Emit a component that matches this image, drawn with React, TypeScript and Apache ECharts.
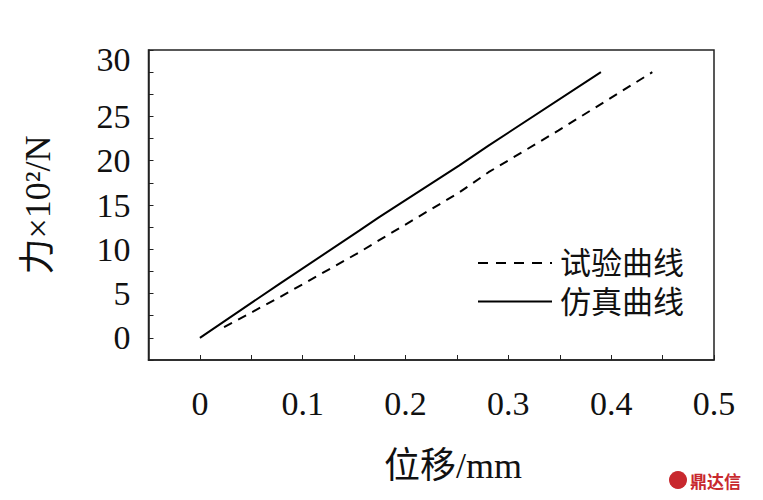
import React, { useEffect, useRef } from "react";
import * as echarts from "echarts";

// Displacement (mm) and force (×10² N)
const testX = [0.0235, 0.0774, 0.155, 0.174, 0.252, 0.2807, 0.3485, 0.44];
const testY = [1.2, 4.58, 9.66, 11.0, 16.4, 18.7, 23.4, 30.0];
const simX = [0, 0.0774, 0.155, 0.174, 0.252, 0.2807, 0.39];
const simY = [0, 6.1, 12.1, 13.6, 19.45, 21.7, 30.0];

const seriesNames = ["试验曲线", "仿真曲线"];
const xTickLabels = ["0", "0.1", "0.2", "0.3", "0.4", "0.5"];
const yTickLabels = ["0", "5", "10", "15", "20", "25", "30"];
const xTitle = "位移/mm";
const yTitle = "力×10²/N";

const FONT = '"Liberation Serif", "Times New Roman", "Noto Sans CJK SC", serif';
const CJK = '"Noto Sans CJK SC", sans-serif';

export default function App() {
  const ref = useRef<HTMLDivElement>(null);

  useEffect(() => {
    document.body.style.margin = "0";
    if (!ref.current) return;
    const chart = echarts.init(ref.current, null, { renderer: "svg" });
    const fmtX = (v: number) => {
      const s = v === 0 ? "0" : v.toFixed(1);
      return xTickLabels.includes(s) && Math.abs(v * 10 - Math.round(v * 10)) < 1e-6 ? s : "";
    };
    const fmtY = (v: number) => {
      const s = String(Math.round(v * 100) / 100);
      if (!yTickLabels.includes(s)) return "";
      return s === "30" ? "{t|30}" : s;
    };
    chart.setOption({
      animation: false,
      tooltip: { show: false },
      grid: {
        left: 148.5,
        top: 50,
        right: 49,
        bottom: 140,
        show: true,
        borderColor: "#222",
        borderWidth: 1.5,
      },
      xAxis: {
        type: "value",
        min: -0.05,
        max: 0.5,
        interval: 0.05,
        position: "bottom",
        axisLine: { show: true, onZero: false, lineStyle: { color: "#222", width: 1.5 } },
        axisTick: { show: true, inside: true, length: 5, lineStyle: { color: "#222", width: 1 } },
        splitLine: { show: false },
        axisLabel: {
          formatter: fmtX,
          showMinLabel: true,
          showMaxLabel: true,
          margin: 26,
          color: "#111",
          fontSize: 34,
          fontFamily: FONT,
        },
      },
      yAxis: {
        type: "value",
        min: -2.5,
        max: 32.5,
        interval: 2.5,
        position: "left",
        axisLine: { show: true, onZero: false, lineStyle: { color: "#222", width: 1.5 } },
        axisTick: { show: true, inside: true, length: 5, lineStyle: { color: "#222", width: 1 } },
        splitLine: { show: false },
        axisLabel: {
          formatter: fmtY,
          showMinLabel: true,
          showMaxLabel: true,
          margin: 18,
          color: "#111",
          fontSize: 34,
          fontFamily: FONT,
          rich: {
            t: { fontSize: 34, fontFamily: FONT, color: "#111", padding: [0, 0, 25, 0] },
          },
        },
      },
      series: [
        {
          name: seriesNames[0],
          type: "line",
          symbol: "none",
          smooth: false,
          data: testX.map((x, i) => [x, testY[i]]),
          lineStyle: { color: "#000", width: 2, type: [9, 7] },
        },
        {
          name: seriesNames[1],
          type: "line",
          symbol: "none",
          smooth: false,
          data: simX.map((x, i) => [x, simY[i]]),
          lineStyle: { color: "#000", width: 2, type: "solid" },
        },
      ],
      graphic: [
        {
          type: "line",
          shape: { x1: 478, y1: 263, x2: 552, y2: 263 },
          style: { stroke: "#000", lineWidth: 2, lineDash: [10, 8] },
        },
        {
          type: "text",
          x: 560,
          y: 263,
          style: {
            text: seriesNames[0],
            fontSize: 31,
            fontFamily: FONT,
            fill: "#111",
            verticalAlign: "middle",
          },
        },
        {
          type: "line",
          shape: { x1: 478, y1: 301.5, x2: 552, y2: 301.5 },
          style: { stroke: "#000", lineWidth: 2 },
        },
        {
          type: "text",
          x: 560,
          y: 302,
          style: {
            text: seriesNames[1],
            fontSize: 31,
            fontFamily: FONT,
            fill: "#111",
            verticalAlign: "middle",
          },
        },
        {
          type: "text",
          x: 453,
          y: 466,
          style: {
            text: xTitle,
            fontSize: 36,
            fontFamily: FONT,
            fill: "#111",
            align: "center",
            verticalAlign: "middle",
          },
        },
        {
          type: "text",
          x: 38,
          y: 205,
          rotation: Math.PI / 2,
          style: {
            text: yTitle,
            fontSize: 36,
            fontFamily: FONT,
            fill: "#111",
            align: "center",
            verticalAlign: "middle",
          },
        },
        {
          type: "circle",
          shape: { cx: 678, cy: 480, r: 9 },
          style: { fill: "#c8282e" },
        },
        {
          type: "text",
          x: 690,
          y: 480,
          style: {
            text: "鼎达信",
            fontSize: 17,
            fontWeight: "bold",
            fontFamily: CJK,
            fill: "#c8282e",
            verticalAlign: "middle",
          },
        },
      ],
    });
    return () => chart.dispose();
  }, []);

  return (
    <div ref={ref} style={{ width: 763, height: 500, background: "#fff" }} />
  );
}
